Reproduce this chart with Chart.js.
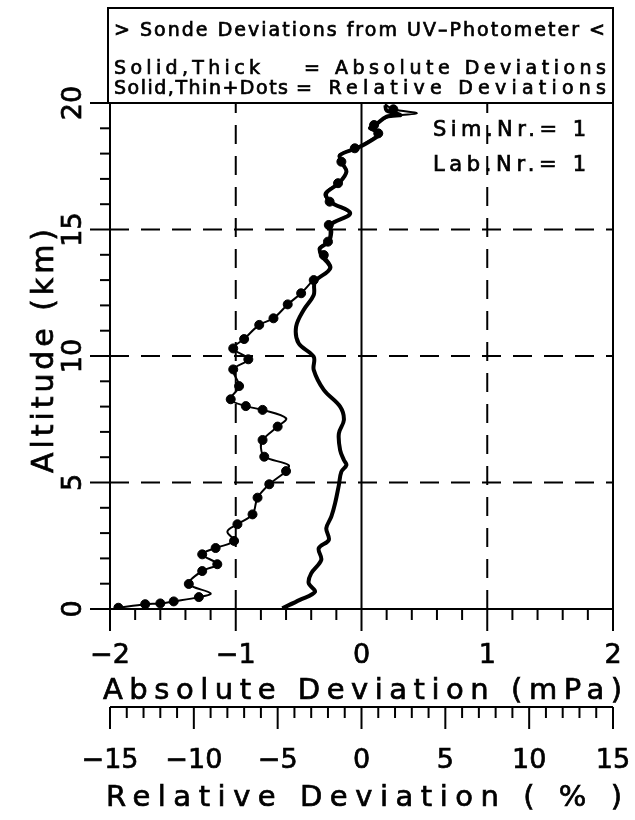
<!DOCTYPE html>
<html>
<head>
<meta charset="utf-8">
<script src="https://cdn.jsdelivr.net/npm/chart.js@4.4.1/dist/chart.umd.min.js"></script>
<style>
  html, body { margin: 0; padding: 0; background: #fff; }
  canvas { display: block; }
</style>
</head>
<body>
<canvas id="sonde_chart" width="635" height="820"></canvas>
<script>
// thick line: absolute deviation (mPa) against altitude (km)
const absKm = [0.03, 0.36, 0.68, 1.02, 1.41, 1.94, 2.40, 2.73, 3.19, 3.65, 4.18, 4.90, 5.43, 5.69, 5.89,
  6.28, 6.94, 7.47, 8.00, 8.66, 9.45, 9.97, 10.50, 11.16, 11.82, 12.41, 12.94, 13.47, 13.99, 14.26,
  14.52, 14.91, 15.18, 15.64, 16.10, 16.43, 16.83, 17.28, 17.68, 17.94, 18.21, 18.41, 18.80, 19.00,
  19.13, 19.46, 19.53, 19.70, 19.92];
const absDev = [-0.63, -0.49, -0.37, -0.42, -0.40, -0.32, -0.34, -0.26, -0.28, -0.24, -0.21, -0.18, -0.16, -0.12, -0.14,
  -0.17, -0.18, -0.14, -0.17, -0.30, -0.38, -0.38, -0.50, -0.52, -0.46, -0.38, -0.37, -0.25, -0.32, -0.33,
  -0.26, -0.24, -0.25, -0.09, -0.25, -0.28, -0.18, -0.12, -0.16, -0.17, -0.04, 0.04, 0.15, 0.07,
  0.11, 0.20, 0.31, 0.20, 0.19];

// thin line: relative deviation (%) against altitude (km)
const relKm = [0.05, 0.19, 0.22, 0.30, 0.47, 0.62, 0.99, 1.50, 1.77, 2.16, 2.41, 2.69, 3.06, 3.35, 3.74,
  4.40, 4.93, 5.45, 5.69, 6.02, 6.39, 6.68, 7.21, 7.54, 7.87, 8.02, 8.29, 8.81, 9.47, 9.87,
  10.30, 10.67, 11.23, 11.49, 12.04, 12.48, 13.00, 13.47, 13.99, 14.26, 14.52, 14.91, 15.18, 15.64,
  16.10, 16.43, 16.83, 17.28, 17.68, 17.94, 18.21, 18.41, 18.80, 19.00, 19.13, 19.46, 19.59, 19.75, 19.95];
const relDev = [-14.5, -12.9, -12.0, -11.2, -9.7, -9.0, -10.3, -9.5, -8.6, -9.5, -8.7, -7.6, -8.0, -7.4, -6.5,
  -6.2, -5.5, -4.5, -4.35, -5.8, -6.0, -5.9, -5.0, -4.5, -5.9, -6.9, -7.8, -7.3, -7.65, -6.75,
  -7.65, -7.0, -6.1, -5.25, -4.4, -3.6, -2.85, -1.8, -2.25, -2.55, -2.0, -1.9, -1.95, -0.75,
  -1.9, -2.2, -1.4, -0.9, -1.2, -1.35, -0.4, 0.2, 1.0, 0.45, 0.75, 1.65, 3.3, 1.9, 1.4];

// dots on the thin line
const dotKm = [0.05, 0.19, 0.22, 0.30, 0.47, 0.99, 1.50, 1.77, 2.16, 2.41, 2.69, 3.35, 3.74, 4.40, 4.93,
  5.45, 6.02, 6.68, 7.21, 7.87, 8.02, 8.29, 8.81, 9.47, 9.87, 10.30, 10.67, 11.23, 11.49, 12.04,
  12.48, 13.00, 13.99, 14.52, 15.18, 16.10, 16.83, 17.68, 18.21, 18.80, 19.13, 19.75];
const dotDev = [-14.5, -12.9, -12.0, -11.2, -9.7, -10.3, -9.5, -8.6, -9.5, -8.7, -7.6, -7.4, -6.5, -6.2, -5.5,
  -4.5, -5.8, -5.9, -5.0, -5.9, -6.9, -7.8, -7.3, -7.65, -6.75, -7.65, -7.0, -6.1, -5.25, -4.4,
  -3.6, -2.85, -2.25, -2.0, -1.95, -1.9, -1.4, -1.2, -0.4, 1.0, 0.75, 1.9];

const absTicks = [-2, -1, 0, 1, 2];
const relTicks = [-15, -10, -5, 0, 5, 10, 15];
const altTicks = [0, 5, 10, 15, 20];

const FONT = '"DejaVu Sans", "Liberation Sans", sans-serif';

function pts(km, dev) {
  return km.map((k, i) => ({ x: dev[i], y: k }));
}

function label(v) {
  return v < 0 ? '\u2212' + Math.abs(v) : String(v);
}

// filled + thin stroke, gives the heavier plotter look
function ink(ctx, text, x, y) {
  ctx.fillText(text, x, y);
  ctx.lineWidth = 0.7;
  ctx.strokeText(text, x, y);
}

// draw text stretched by letter spacing to a given width
function spaced(ctx, text, x, y, width, size) {
  ctx.font = size + 'px ' + FONT;
  ctx.letterSpacing = '0px';
  const w = ctx.measureText(text).width;
  const sp = text.length > 1 ? (width - w) / (text.length - 1) : 0;
  ctx.letterSpacing = sp + 'px';
  ctx.textAlign = 'left';
  ctx.textBaseline = 'middle';
  ink(ctx, text, x, y);
  ctx.letterSpacing = '0px';
}

function seg(ctx, x1, y1, x2, y2) {
  ctx.lineWidth = 2;
  ctx.beginPath();
  ctx.moveTo(x1, y1);
  ctx.lineTo(x2, y2);
  ctx.stroke();
}

const framePlugin = {
  id: 'frame',
  beforeDatasetsDraw(chart) {
    const { ctx, chartArea: a, scales } = chart;
    const x = scales.x, y = scales.y;
    ctx.save();
    ctx.strokeStyle = '#000';
    ctx.setLineDash([19, 12]);
    absTicks.forEach(v => {
      if (v === 0 || v === x.min || v === x.max) return;
      const px = x.getPixelForValue(v);
      seg(ctx, px, a.bottom, px, a.top);
    });
    altTicks.forEach(v => {
      if (v === y.min || v === y.max) return;
      const py = y.getPixelForValue(v);
      seg(ctx, a.left, py, a.right, py);
    });
    ctx.setLineDash([]);
    const p0 = x.getPixelForValue(0);
    seg(ctx, p0, a.bottom, p0, a.top);
    ctx.restore();
  },
  afterDatasetsDraw(chart) {
    const { ctx, chartArea: a, scales } = chart;
    const x = scales.x, y = scales.y, xr = scales.xr;
    ctx.save();
    ctx.strokeStyle = '#000';
    ctx.fillStyle = '#000';
    ctx.lineWidth = 2;
    ctx.strokeRect(a.left, a.top, a.right - a.left, a.bottom - a.top);

    // legend box above the plot
    ctx.lineWidth = 2;
    ctx.strokeRect(a.left - 2, 8, a.right - a.left + 2, a.top - 8);
    spaced(ctx, '> Sonde Deviations from UV\u2013Photometer <', 114, 31, 491, 19);
    spaced(ctx, 'Solid,Thick', 114, 69, 146, 19);
    spaced(ctx, '= Absolute Deviations', 304, 69, 302, 19);
    spaced(ctx, 'Solid,Thin+Dots', 114, 89, 174, 19);
    spaced(ctx, '= Relative Deviations', 296, 89, 310, 19);

    spaced(ctx, 'Sim.Nr.= 1', 433, 131, 153, 21);
    spaced(ctx, 'Lab.Nr.= 1', 433, 166, 153, 21);

    // left axis ticks
    for (let v = y.min; v <= y.max + 1e-9; v += 1) {
      const py = y.getPixelForValue(v);
      const len = v % 5 === 0 ? 20 : 10;
      seg(ctx, a.left - len, py, a.left, py);
    }
    ctx.font = '27px ' + FONT;
    ctx.textAlign = 'center';
    ctx.textBaseline = 'middle';
    altTicks.forEach(v => {
      const py = y.getPixelForValue(v);
      ctx.save();
      ctx.translate(74, py);
      ctx.rotate(-Math.PI / 2);
      ink(ctx, label(v), 0, 0);
      ctx.restore();
    });
    ctx.save();
    ctx.translate(45, 351);
    ctx.rotate(-Math.PI / 2);
    spaced(ctx, 'Altitude (km)', -122, 0, 244, 30);
    ctx.restore();

    // bottom absolute axis
    for (let i = 0; i <= 20; i++) {
      const v = x.min + i * 0.2;
      const px = x.getPixelForValue(v);
      const len = i % 5 === 0 ? 22 : 11;
      seg(ctx, px, a.bottom, px, a.bottom + len);
    }
    ctx.font = '27px ' + FONT;
    ctx.textAlign = 'center';
    ctx.textBaseline = 'middle';
    absTicks.forEach(v => ink(ctx, label(v), x.getPixelForValue(v), 656));
    spaced(ctx, 'Absolute Deviation (mPa)', 103, 691, 519, 29);

    // relative ruler
    const ry = 707;
    seg(ctx, xr.getPixelForValue(xr.min), ry, xr.getPixelForValue(xr.max), ry);
    for (let v = xr.min; v <= xr.max + 1e-9; v += 1) {
      const px = xr.getPixelForValue(v);
      const len = v % 5 === 0 ? 22 : 11;
      seg(ctx, px, ry, px, ry + len);
    }
    ctx.font = '27px ' + FONT;
    ctx.textAlign = 'center';
    ctx.textBaseline = 'middle';
    relTicks.forEach(v => ink(ctx, label(v), xr.getPixelForValue(v), 761));
    spaced(ctx, 'Relative Deviation ( % )', 106, 798, 516, 29);
    ctx.restore();
  }
};

new Chart(document.getElementById('sonde_chart').getContext('2d'), {
  type: 'line',
  data: {
    datasets: [{
      label: 'Absolute Deviations',
      data: pts(absKm, absDev),
      xAxisID: 'x',
      borderColor: '#000',
      borderWidth: 4,
      pointRadius: 0,
      tension: 0.35
    }, {
      label: 'Relative Deviations',
      data: pts(relKm, relDev),
      xAxisID: 'xr',
      borderColor: '#000',
      borderWidth: 2,
      pointRadius: 0,
      tension: 0.35
    }, {
      label: 'Relative Deviations (dots)',
      data: pts(dotKm, dotDev),
      xAxisID: 'xr',
      showLine: false,
      pointRadius: 4.5,
      pointBackgroundColor: '#000',
      pointBorderColor: '#000'
    }]
  },
  options: {
    responsive: false,
    devicePixelRatio: 1,
    animation: false,
    layout: { padding: { left: 110, right: 22, top: 103, bottom: 211 } },
    plugins: { legend: { display: false }, tooltip: { enabled: false } },
    scales: {
      x: { type: 'linear', position: 'bottom', min: -2, max: 2, display: false },
      xr: { type: 'linear', position: 'bottom', min: -15, max: 15, display: false },
      y: { type: 'linear', min: 0, max: 20, display: false }
    }
  },
  plugins: [framePlugin]
});
</script>
</body>
</html>
